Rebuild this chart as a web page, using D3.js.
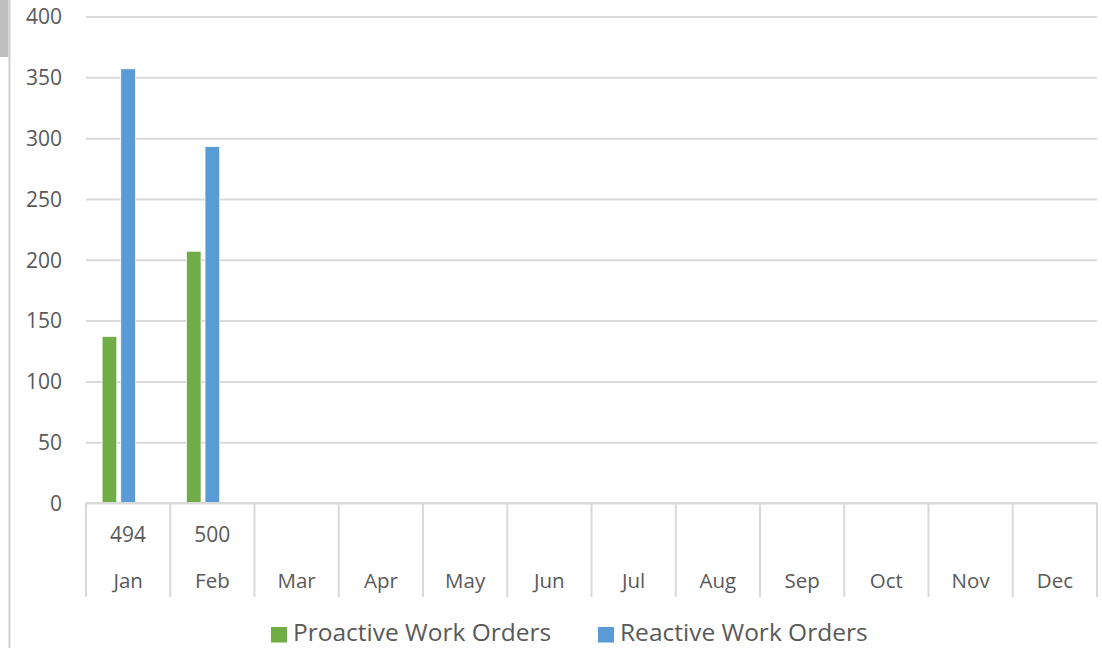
<!DOCTYPE html>
<html>
<head>
<meta charset="utf-8">
<script src="https://cdn.jsdelivr.net/npm/d3@7"></script>
<style>
  html, body { margin: 0; padding: 0; background: #fff; }
  svg { display: block; }
  text { font-family: "Open Sans", "Noto Sans", sans-serif; fill: #595959; }
</style>
</head>
<body>
<svg id="chart" width="1102" height="648"></svg>
<script>
const months = ["Jan","Feb","Mar","Apr","May","Jun","Jul","Aug","Sep","Oct","Nov","Dec"];
const proactive = [137, 207, null, null, null, null, null, null, null, null, null, null];
const reactive  = [357, 293, null, null, null, null, null, null, null, null, null, null];
const totals    = [494, 500, null, null, null, null, null, null, null, null, null, null];
const yTicks = [0, 50, 100, 150, 200, 250, 300, 350, 400];
const seriesNames = ["Proactive Work Orders", "Reactive Work Orders"];
const seriesColors = ["#70AD47", "#5B9BD5"];
const slotKeys = ["proactive", "reactive", "total"];

const svg = d3.select("#chart");
const plotLeft = 86, plotRight = 1097, plotTop = 16.5, zeroY = 503, tableBottom = 597;

// left decoration (frame remnants)
svg.append("rect").attr("x", 0).attr("y", 0).attr("width", 8.5).attr("height", 57).attr("fill", "#bfbfbf");
svg.append("line").attr("x1", 9.5).attr("x2", 9.5).attr("y1", 0).attr("y2", 648)
  .attr("stroke", "#d0d0d0").attr("stroke-width", 2);

const x = d3.scaleBand().domain(months).range([plotLeft, plotRight]).paddingInner(0).paddingOuter(0);
const xs = d3.scaleBand().domain(slotKeys).range([0, x.bandwidth()]).paddingInner(0.2126).paddingOuter(0.862);
const y = d3.scaleLinear().domain([0, 400]).range([zeroY, plotTop]);

// gridlines
const yAxis = d3.axisLeft(y).tickValues(yTicks).tickSize(-(plotRight - plotLeft)).tickPadding(24).tickFormat(d3.format("d"));
const gy = svg.append("g").attr("transform", `translate(${plotLeft},0)`).call(yAxis);
gy.select(".domain").remove();
gy.selectAll(".tick line").attr("stroke", "#d9d9d9").attr("stroke-width", 2);
gy.selectAll(".tick text").attr("font-size", 21).attr("fill", "#595959").attr("dy", "0.35em");

// bars
const seriesData = [proactive, reactive];
seriesData.forEach((vals, si) => {
  svg.append("g").selectAll("rect")
    .data(months.map((m, i) => ({ m, v: vals[i] })).filter(d => d.v != null))
    .join("rect")
    .attr("x", d => x(d.m) + xs(slotKeys[si]))
    .attr("width", xs.bandwidth())
    .attr("y", d => y(d.v))
    .attr("height", d => y(0) - y(d.v))
    .attr("fill", seriesColors[si])
    .attr("stroke", "#ffffff")
    .attr("stroke-width", 0.75);
});

// data table under axis
const table = svg.append("g");
table.selectAll("line.v")
  .data(months.concat(["__end"]))
  .join("line")
  .attr("x1", (d, i) => i < months.length ? x(d) : plotRight)
  .attr("x2", (d, i) => i < months.length ? x(d) : plotRight)
  .attr("y1", zeroY).attr("y2", tableBottom)
  .attr("stroke", "#d9d9d9").attr("stroke-width", 2);
table.append("line").attr("x1", plotLeft).attr("x2", plotRight).attr("y1", zeroY).attr("y2", zeroY)
  .attr("stroke", "#d9d9d9").attr("stroke-width", 2);

table.selectAll("text.total")
  .data(months.map((m, i) => ({ m, v: totals[i] })).filter(d => d.v != null))
  .join("text")
  .attr("x", d => x(d.m) + x.bandwidth() / 2)
  .attr("y", 535).attr("dy", "0.35em")
  .attr("text-anchor", "middle").attr("font-size", 21)
  .text(d => d.v);

table.selectAll("text.month")
  .data(months)
  .join("text")
  .attr("x", d => x(d) + x.bandwidth() / 2)
  .attr("y", 581).attr("dy", "0.35em")
  .attr("text-anchor", "middle").attr("font-size", 20.5)
  .text(d => d);

// legend
const legendX = [271, 598];
const lg = svg.append("g");
seriesNames.forEach((name, i) => {
  lg.append("rect").attr("x", legendX[i]).attr("y", 627).attr("width", 16).attr("height", 15.5).attr("fill", seriesColors[i]);
  lg.append("text").attr("x", legendX[i] + 22).attr("y", 641)
    .attr("font-size", 24.5).text(name);
});
</script>
</body>
</html>
